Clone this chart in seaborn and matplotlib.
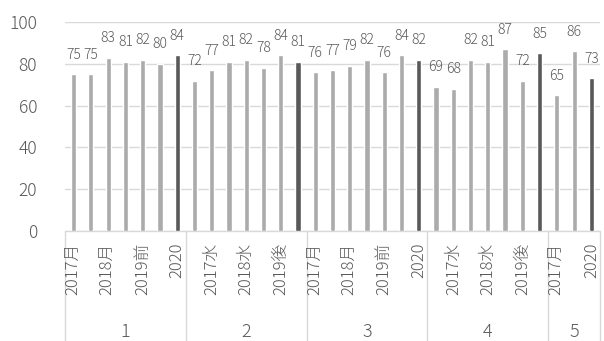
import matplotlib
matplotlib.use("Agg")
import matplotlib.pyplot as plt
import matplotlib.transforms as mtransforms
import seaborn as sns
import pandas as pd

# --- data -------------------------------------------------------------
groups = ["1", "2", "3", "4", "5"]
group_cats = [
    ["2017月", "2017水", "2018月", "2018水", "2019前", "2019後", "2020"],
    ["2017月", "2017水", "2018月", "2018水", "2019前", "2019後", "2020"],
    ["2017月", "2017水", "2018月", "2018水", "2019前", "2019後", "2020"],
    ["2017月", "2017水", "2018月", "2018水", "2019前", "2019後", "2020"],
    ["2017月", "2017水", "2020"],
]
group_values = [
    [75, 75, 83, 81, 82, 80, 84],
    [72, 77, 81, 82, 78, 84, 81],
    [76, 77, 79, 82, 76, 84, 82],
    [69, 68, 82, 81, 87, 72, 85],
    [65, 86, 73],
]
y_ticks = [0, 20, 40, 60, 80, 100]

# --- build table --------------------------------------------------------
rows = []
for g, cats, vals in zip(groups, group_cats, group_values):
    for c, v in zip(cats, vals):
        rows.append({"group": g, "cat": c, "value": v,
                     "kind": "2020" if c == "2020" else "other"})
df = pd.DataFrame(rows)
df["pos"] = [f"{i:02d}" for i in range(len(df))]

sns.set_style("white")
plt.rcParams["font.family"] = ["Noto Sans CJK JP", "DejaVu Sans"]
plt.rcParams["font.weight"] = "light"
text_c = "#595959"
line_c = "#D9D9D9"

fig = plt.figure(figsize=(6.04, 3.41), dpi=100)
ax = fig.add_axes([65 / 604, 1 - 231 / 341, 535 / 604, 209 / 341])

sns.barplot(data=df, x="pos", y="value", hue="kind",
            palette={"other": "#ABABAB", "2020": "#595959"},
            dodge=False, width=0.3, legend=False, ax=ax, zorder=3)

ax.set_ylim(0, 100)
ax.set_xlim(-0.5, len(df) - 0.5)
ax.set_yticks(y_ticks)
ax.set_yticklabels([str(t) for t in y_ticks], fontsize=12.5, color=text_c)
ax.tick_params(axis="y", length=0, pad=20)
ax.yaxis.grid(True, color=line_c, linewidth=1)
ax.set_axisbelow(True)
ax.set_xticks([])
ax.set_xlabel("")
ax.set_ylabel("")
for s in ax.spines.values():
    s.set_visible(False)

# value labels
for p, v in zip(range(len(df)), df["value"]):
    ax.annotate(str(v), (p, v), xytext=(0, 9), textcoords="offset points",
                ha="center", va="bottom", fontsize=10, color=text_c)

# multi-level category axis
trans = mtransforms.blended_transform_factory(ax.transData, fig.transFigure)
y0 = 1 - 231 / 341
ax.plot([-0.5, len(df) - 0.5], [y0, y0], transform=trans, color=line_c,
        lw=1, clip_on=False)
start = 0
edges = [-0.5]
for g, cats in zip(groups, group_cats):
    n = len(cats)
    for i in range(n):
        idx = start + i
        if idx % 2 == 0:
            ax.text(idx, 1 - 243 / 341, cats[i], transform=trans, rotation=90,
                    ha="center", va="top", fontsize=12, color=text_c)
    ax.text(start + (n - 1) / 2, 1 - 332 / 341, g, transform=trans,
            ha="center", va="center", fontsize=13, color=text_c)
    start += n
    edges.append(start - 0.5)
for e in edges:
    ax.plot([e, e], [0, y0], transform=trans, color=line_c, lw=1,
            clip_on=False)

fig.savefig("out.png", dpi=100)
